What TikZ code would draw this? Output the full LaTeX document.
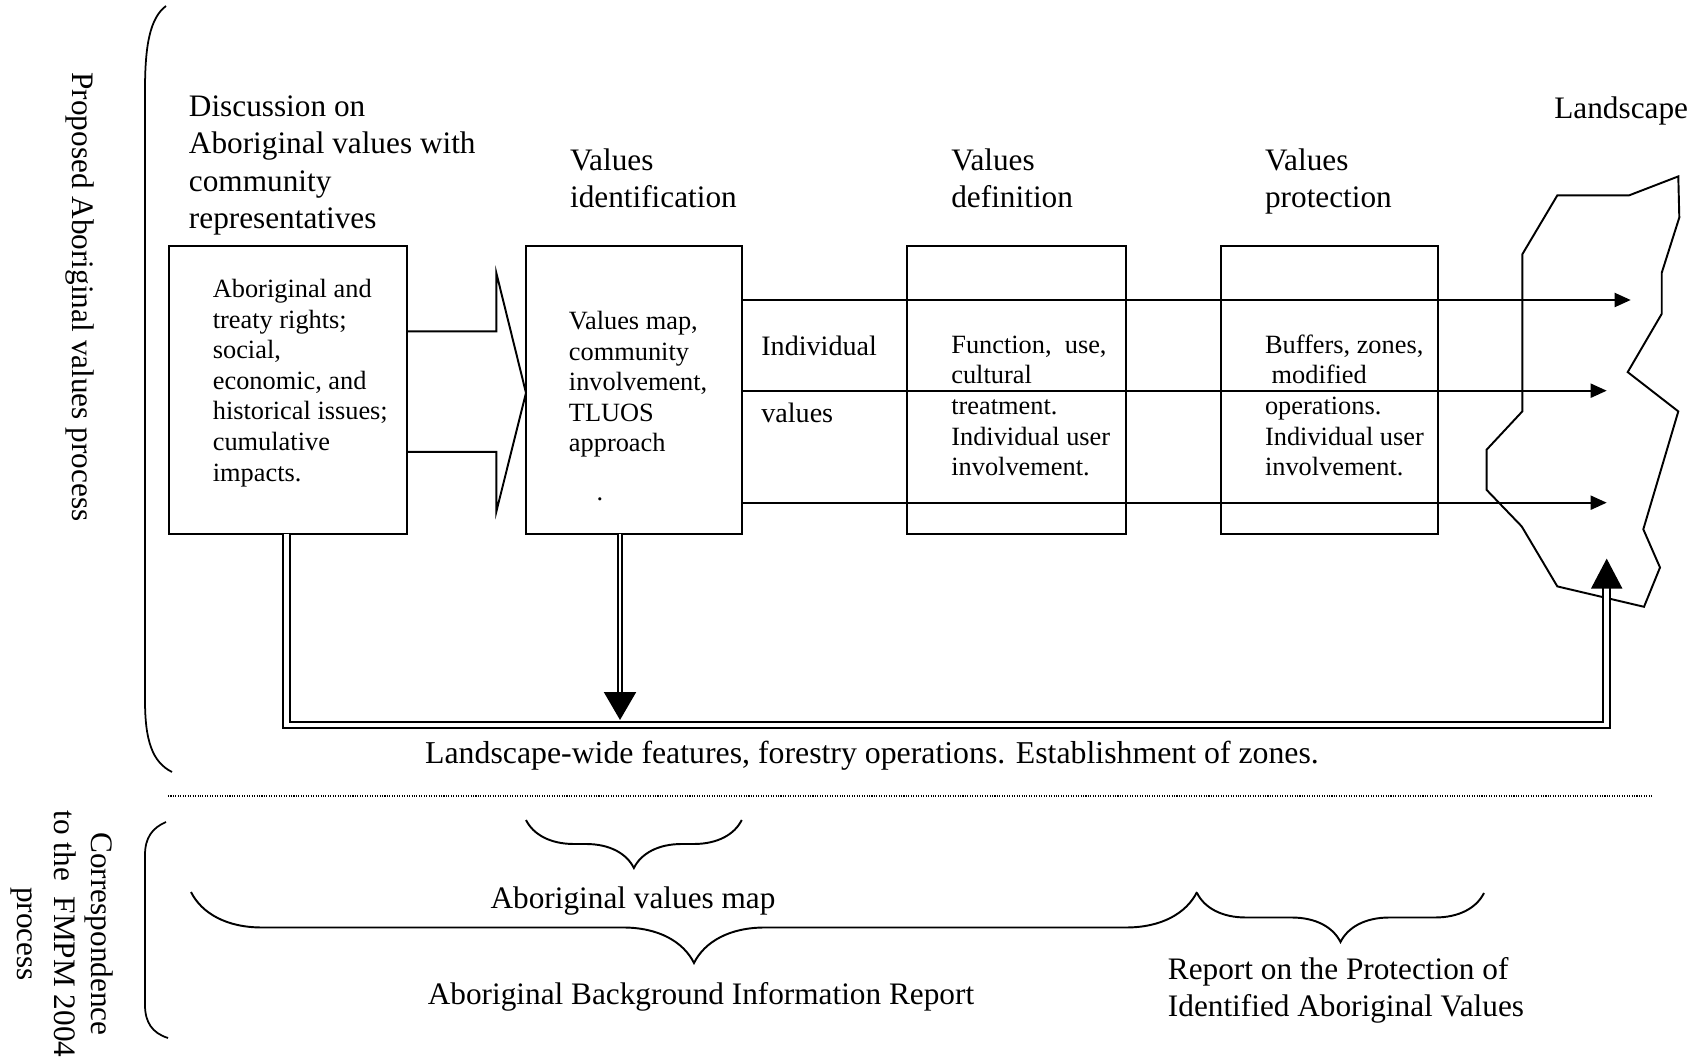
\documentclass[tikz,border=0pt]{standalone}
\usepackage{fontspec}
\setmainfont{Liberation Serif}
\usetikzlibrary{arrows.meta,decorations.pathreplacing}

\newcommand\headfont{\fontsize{17.8}{21.3}\selectfont}
\newcommand\boxfont{\fontsize{15}{17.4}\selectfont}

\begin{document}
\begin{tikzpicture}[x=0.02cm,y=-0.02cm,
  stagebox/.style={draw,line width=1.1pt,inner sep=0pt,outer sep=0pt,anchor=north west,minimum height=5.752cm},
  heading/.style={anchor=north west,inner sep=0pt,align=left,font=\headfont},
  boxtext/.style={anchor=north west,inner sep=0pt,align=left,font=\boxfont},
  flow/.style={line width=1.1pt,-{Triangle[length=0.32cm,width=0.28cm]}},
  feedback/.style={line width=1.2pt,double,double distance=2.6pt},
  curly/.style={decorate,decoration={brace,mirror,amplitude=#1},line width=1.1pt},
  paren/.style={line width=1pt}]
\useasboundingbox (0,0) rectangle (1708,1057);

% upper bracket and its side label
\draw[paren] (166,6) .. controls (150,18) and (145,45) .. (145,90) -- (145,700) .. controls (145,740) and (152,762) .. (172,772);
\node[rotate=-90,font=\headfont] (side1) at (80,297) {Proposed Aboriginal values process};

% headings over the stages
\node[heading] (h1) at (188.6,95.5) {Discussion on\\Aboriginal values with\\community\\representatives};
\node[heading] (h2) at (569.7,148.5) {Values\\identification};
\node[heading] (h3) at (951,148.5) {Values\\definition};
\node[heading] (h4) at (1264.7,148.5) {Values\\protection};
\node[heading] (h5) at (1554,96) {Landscape};

% the four stage boxes
\node[stagebox,minimum width=4.772cm] (b1) at (168.8,246.2) {};
\node[stagebox,minimum width=4.316cm] (b2) at (526,246.2) {};
\node[stagebox,minimum width=4.378cm] (b3) at (907.4,246.2) {};
\node[stagebox,minimum width=4.336cm] (b4) at (1221.1,246.2) {};

\node[boxtext] (t1) at (212.5,279) {Aboriginal and\\treaty rights;\\social,\\economic, and\\historical issues;\\cumulative\\impacts.};
\node[boxtext] (t2) at (568.6,311) {Values map,\\community\\involvement,\\TLUOS\\approach};
\node[font=\boxfont,inner sep=0pt] (dot) at (600,499) {.};
\node[boxtext] (t3) at (951,335.5) {Function,\ \ use,\\cultural\\treatment.\\Individual user\\involvement.};
\node[boxtext] (t4) at (1264.7,334.5) {Buffers, zones,\\\hspace{0.25em}modified\\operations.\\Individual user\\involvement.};

\node[anchor=north west,inner sep=0pt,font=\fontsize{16}{19}\selectfont] (iv1) at (761,335.5) {Individual};
\node[anchor=north west,inner sep=0pt,font=\fontsize{16}{19}\selectfont] (iv2) at (761,403) {values};

% hollow arrow from discussion to identification
\draw[line width=1.1pt] (b1.east |- 0,331.4) -- (496.4,331.4) -- (496.4,273.2) -- (b2.west |- 0,392.9)
  -- (496.4,511.4) -- (496.4,451.8) -- (b1.east |- 0,451.8);

% landscape outline
\draw[line width=1.1pt] (1557.3,195.4) -- (1629,195.4) -- (1678.3,176.4) -- (1679.3,217.5) -- (1661.7,272.9)
  -- (1661.7,313.9) -- (1627.7,372.1) -- (1678.3,411.4) -- (1643.3,529.3) -- (1660,567.5) -- (1644,606.8)
  -- (1557.3,586.4) -- (1521.7,526.4) -- (1486.7,490) -- (1486.7,449.6) -- (1522.3,411.4) -- (1522.3,254.3) -- cycle;

\coordinate (l1) at (1630.7,300);
\coordinate (l2) at (1606.7,390.7);
\coordinate (l3) at (1606.7,502.7);
\coordinate (lu) at (1606.7,558.6);

% individual values to the landscape
\draw[flow] (b2.east |- l1) -- (l1);
\draw[flow] (b2.east |- l2) -- (l2);
\draw[flow] (b2.east |- l3) -- (l3);

% landscape-wide loop
\coordinate (fb) at (286.5,725);
\coordinate (mp) at (620,720);
\draw[feedback,-{Triangle[length=0.6cm,width=0.62cm]}] (b1.south -| fb) -- (fb) -- (fb -| lu) -- (lu);
\draw[line width=1.2pt,double,double distance=1.5pt,-{Triangle[length=0.56cm,width=0.64cm]}] (b2.south -| mp) -- (mp);
\node[font=\fontsize{18.1}{21.3}\selectfont] (lw) at (872,755.5) {Landscape-wide features, forestry operations. Establishment of zones.};

\draw[line width=0.6pt,dash pattern=on 0.6pt off 0.8pt] (168,796) -- (1653,796);

% lower bracket: correspondence to FMPM
\draw[paren] (166,822) .. controls (152,828) and (145,838) .. (145,855) -- (145,1005) .. controls (145,1022) and (152,1033) .. (168,1038);
\node[rotate=-90,font=\headfont,align=center] (side2) at (62,934) {Correspondence\\to the\ \ FMPM 2004\\process};

\draw[curly=0.96cm] (b2.west |- 0,820) -- (b2.east |- 0,820);
\node[font=\headfont] (avm) at (633,901) {Aboriginal values map};
\draw[curly=1.42cm] (191,892) -- (1197,892);
\node[font=\headfont] (abir) at (701,997) {Aboriginal Background Information Report};
\draw[curly=0.98cm] (1197,893) -- (1484,893);
\node[heading] (rp) at (1167.6,957) {Report on the Protection of\\Identified Aboriginal Values};
\end{tikzpicture}
\end{document}
